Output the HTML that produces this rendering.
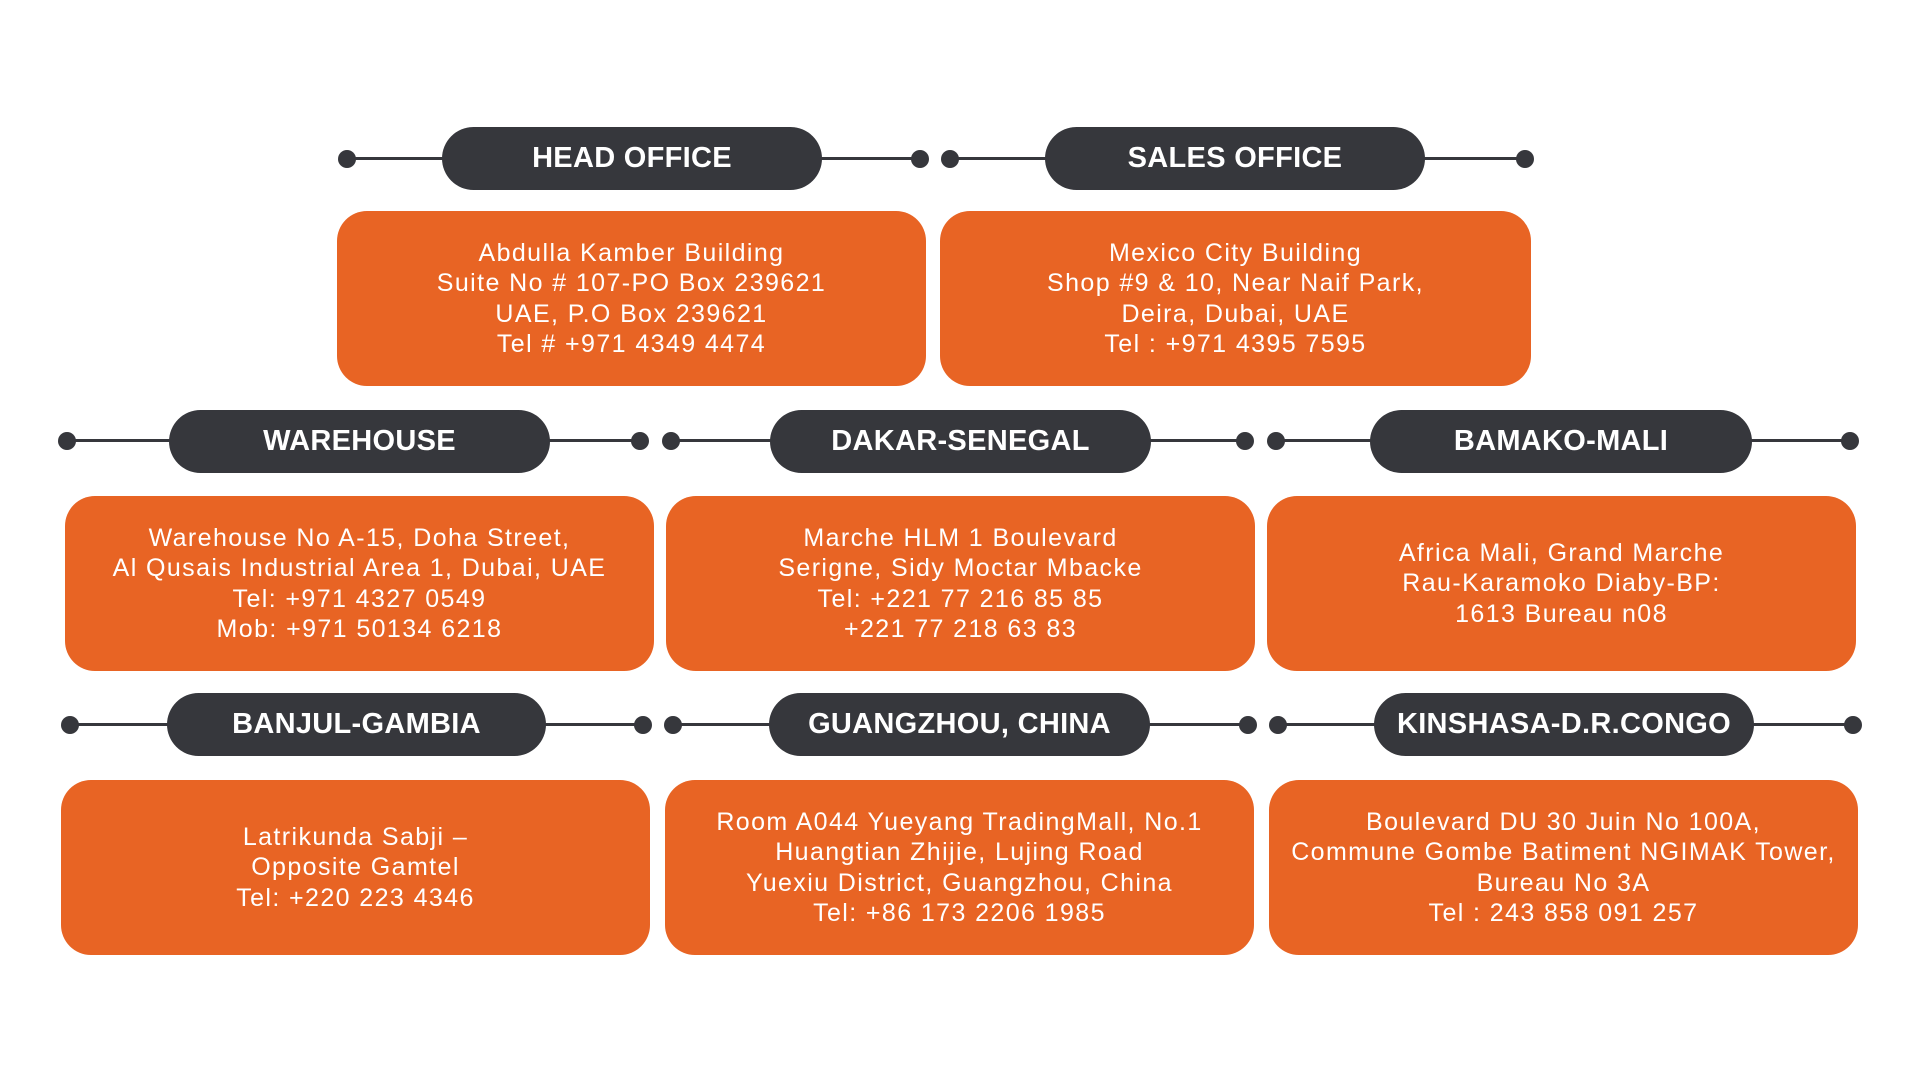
<!DOCTYPE html>
<html><head><meta charset="utf-8"><style>
html,body{margin:0;padding:0;background:#fff;}
body{width:1920px;height:1080px;position:relative;overflow:hidden;font-family:"Liberation Sans",sans-serif;}
.line{position:absolute;height:3px;background:#36373c;}
.dot{position:absolute;width:18px;height:18px;border-radius:50%;background:#36373c;}
.pill{position:absolute;height:63px;border-radius:32px;background:#36373c;color:#fff;font-weight:bold;font-size:29px;display:flex;align-items:center;justify-content:center;letter-spacing:0.3px;}
.box{position:absolute;border-radius:30px;background:#e86424;color:#fff;font-size:25px;line-height:30.5px;display:flex;align-items:center;justify-content:center;text-align:center;letter-spacing:1.4px;}
</style></head><body>

<!-- Row 1 -->
<div class="line" style="left:347px;width:573px;top:157px"></div>
<div class="dot" style="left:338px;top:150px"></div><div class="dot" style="left:911px;top:150px"></div>
<div class="pill" style="left:442px;width:380px;top:127px">HEAD OFFICE</div>
<div class="box" style="left:337px;width:589px;top:211px;height:175px">Abdulla Kamber Building<br>Suite No # 107-PO Box 239621<br>UAE, P.O Box 239621<br>Tel # +971 4349 4474</div>

<div class="line" style="left:950px;width:575px;top:157px"></div>
<div class="dot" style="left:941px;top:150px"></div><div class="dot" style="left:1516px;top:150px"></div>
<div class="pill" style="left:1045px;width:380px;top:127px">SALES OFFICE</div>
<div class="box" style="left:940px;width:591px;top:211px;height:175px">Mexico City Building<br>Shop #9 &amp; 10, Near Naif Park,<br>Deira, Dubai, UAE<br>Tel : +971 4395 7595</div>

<!-- Row 2 -->
<div class="line" style="left:67px;width:573px;top:439px"></div>
<div class="dot" style="left:58px;top:432px"></div><div class="dot" style="left:631px;top:432px"></div>
<div class="pill" style="left:169px;width:381px;top:410px">WAREHOUSE</div>
<div class="box" style="left:65px;width:589px;top:496px;height:175px">Warehouse No A-15, Doha Street,<br>Al Qusais Industrial Area 1, Dubai, UAE<br>Tel: +971 4327 0549<br>Mob: +971 50134 6218</div>

<div class="line" style="left:671px;width:574px;top:439px"></div>
<div class="dot" style="left:662px;top:432px"></div><div class="dot" style="left:1236px;top:432px"></div>
<div class="pill" style="left:770px;width:381px;top:410px">DAKAR-SENEGAL</div>
<div class="box" style="left:666px;width:589px;top:496px;height:175px">Marche HLM 1 Boulevard<br>Serigne, Sidy Moctar Mbacke<br>Tel: +221 77 216 85 85<br>+221 77 218 63 83</div>

<div class="line" style="left:1276px;width:574px;top:439px"></div>
<div class="dot" style="left:1267px;top:432px"></div><div class="dot" style="left:1841px;top:432px"></div>
<div class="pill" style="left:1370px;width:382px;top:410px">BAMAKO-MALI</div>
<div class="box" style="left:1267px;width:589px;top:496px;height:175px">Africa Mali, Grand Marche<br>Rau-Karamoko Diaby-BP:<br>1613 Bureau n08</div>

<!-- Row 3 -->
<div class="line" style="left:70px;width:573px;top:723px"></div>
<div class="dot" style="left:61px;top:716px"></div><div class="dot" style="left:634px;top:716px"></div>
<div class="pill" style="left:167px;width:379px;top:693px">BANJUL-GAMBIA</div>
<div class="box" style="left:61px;width:589px;top:780px;height:175px">Latrikunda Sabji –<br>Opposite Gamtel<br>Tel: +220 223 4346</div>

<div class="line" style="left:673px;width:575px;top:723px"></div>
<div class="dot" style="left:664px;top:716px"></div><div class="dot" style="left:1239px;top:716px"></div>
<div class="pill" style="left:769px;width:381px;top:693px">GUANGZHOU, CHINA</div>
<div class="box" style="left:665px;width:589px;top:780px;height:175px">Room A044 Yueyang TradingMall, No.1<br>Huangtian Zhijie, Lujing Road<br>Yuexiu District, Guangzhou, China<br>Tel: +86 173 2206 1985</div>

<div class="line" style="left:1278px;width:575px;top:723px"></div>
<div class="dot" style="left:1269px;top:716px"></div><div class="dot" style="left:1844px;top:716px"></div>
<div class="pill" style="left:1374px;width:380px;top:693px">KINSHASA-D.R.CONGO</div>
<div class="box" style="left:1269px;width:589px;top:780px;height:175px">Boulevard DU 30 Juin No 100A,<br>Commune Gombe Batiment NGIMAK Tower,<br>Bureau No 3A<br>Tel : 243 858 091 257</div>

</body></html>
